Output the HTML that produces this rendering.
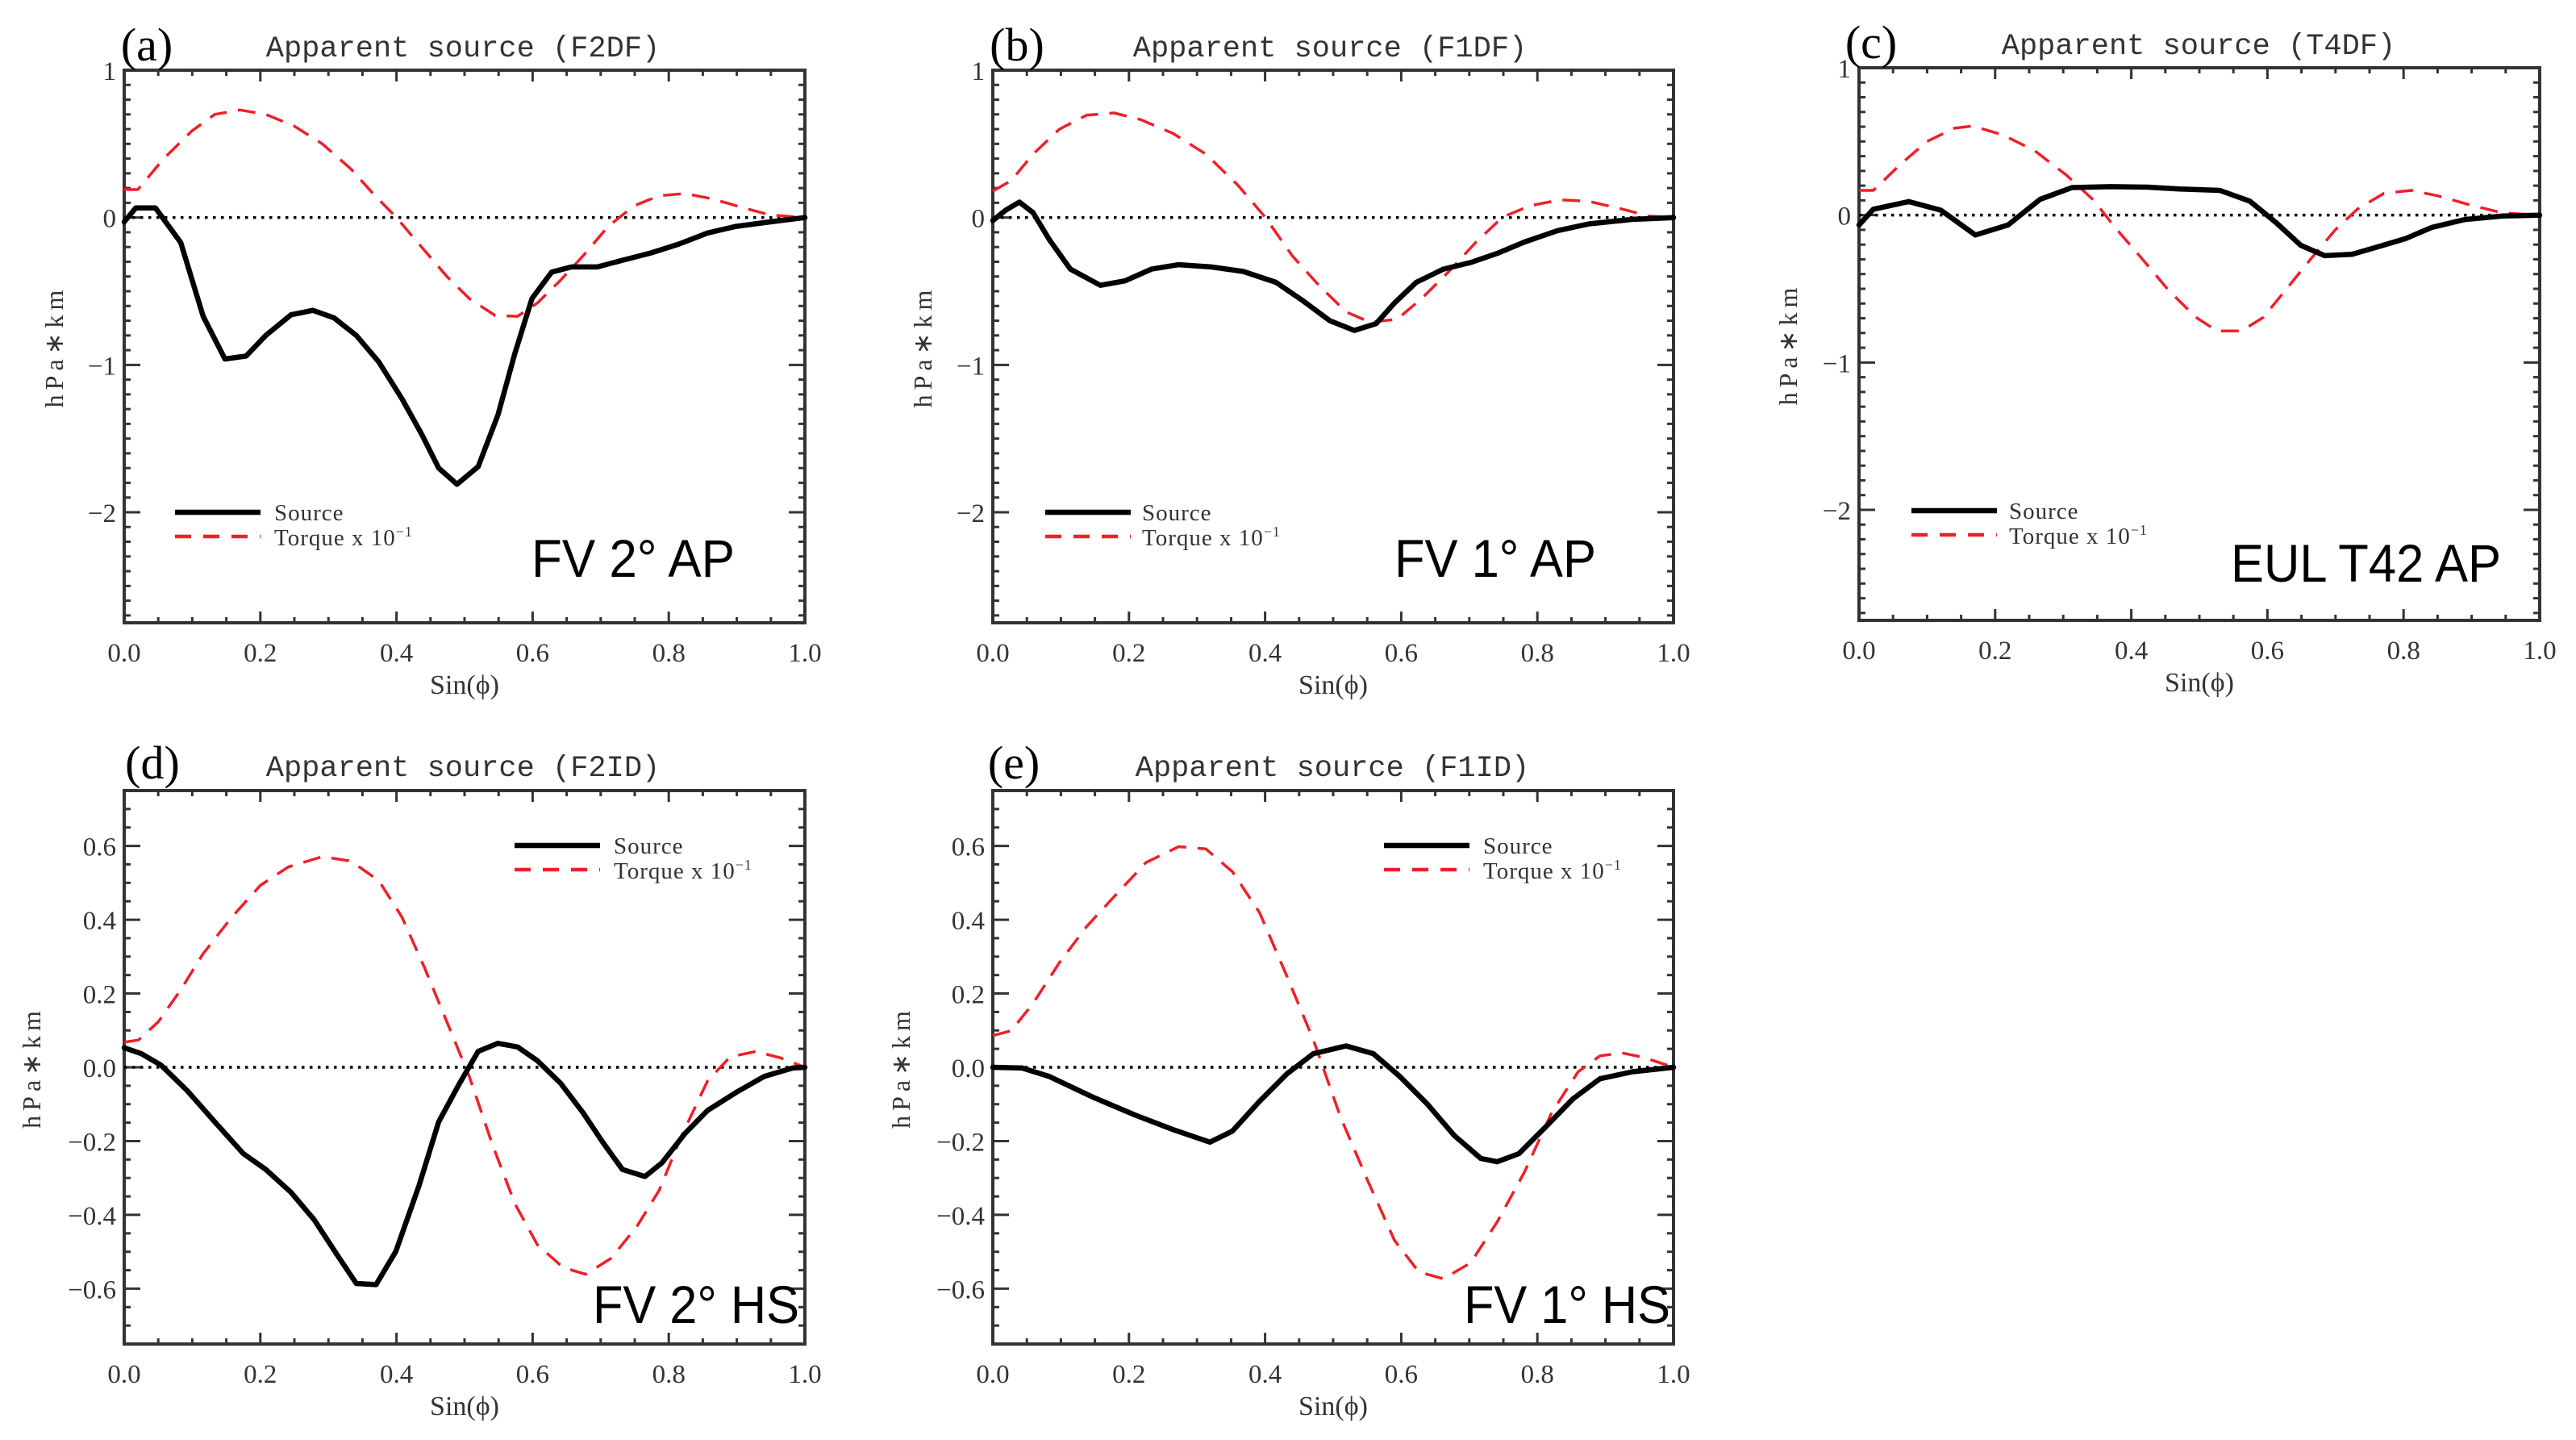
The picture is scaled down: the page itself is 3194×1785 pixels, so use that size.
<!DOCTYPE html>
<html><head><meta charset="utf-8"><style>
html,body{margin:0;padding:0;background:#fff}
svg{display:block}
.t{font-family:"Liberation Mono",monospace;fill:#333}
.s{font-family:"Liberation Serif",serif;fill:#333}
.b{font-family:"Liberation Sans",sans-serif;fill:#000}
</style></head><body>
<svg id="fig" width="3194" height="1785" viewBox="0 0 3194 1785" xmlns="http://www.w3.org/2000/svg"></svg>
<script>
// ---- data ----
const aSrcX=[0,0.017,0.046,0.083,0.116,0.148,0.179,0.208,0.245,0.277,0.308,0.341,0.374,0.408,0.437,0.462,0.489,0.52,0.549,0.574,0.599,0.628,0.657,0.695,0.732,0.774,0.815,0.857,0.899,0.948,1];
const aSrcY=[-0.03,0.065,0.065,-0.17,-0.67,-0.96,-0.94,-0.80,-0.66,-0.63,-0.68,-0.80,-0.98,-1.23,-1.47,-1.70,-1.81,-1.69,-1.34,-0.92,-0.55,-0.37,-0.335,-0.335,-0.29,-0.24,-0.18,-0.105,-0.06,-0.03,0];
const aTrqX=[0,0.02,0.058,0.1,0.133,0.17,0.208,0.25,0.291,0.333,0.366,0.4,0.433,0.474,0.507,0.545,0.578,0.607,0.64,0.674,0.711,0.749,0.786,0.824,0.865,0.907,0.948,1];
const aTrqY=[0.19,0.19,0.40,0.59,0.70,0.73,0.70,0.62,0.50,0.33,0.16,0.0,-0.18,-0.40,-0.55,-0.665,-0.67,-0.58,-0.43,-0.26,-0.06,0.08,0.148,0.163,0.126,0.07,0.018,0];
const bSrcX=[0,0.019,0.039,0.059,0.083,0.114,0.158,0.194,0.233,0.273,0.321,0.368,0.416,0.456,0.495,0.531,0.563,0.59,0.622,0.662,0.702,0.741,0.781,0.829,0.876,0.94,1];
const bSrcY=[-0.02,0.05,0.105,0.034,-0.15,-0.35,-0.46,-0.43,-0.35,-0.32,-0.335,-0.366,-0.44,-0.566,-0.70,-0.766,-0.72,-0.58,-0.44,-0.35,-0.305,-0.243,-0.166,-0.09,-0.043,-0.012,0];
const bTrqX=[0,0.027,0.059,0.098,0.138,0.178,0.217,0.265,0.313,0.36,0.4,0.44,0.479,0.519,0.554,0.594,0.63,0.67,0.71,0.749,0.789,0.833,0.876,0.924,0.964,1];
const bTrqY=[0.18,0.25,0.43,0.60,0.695,0.71,0.665,0.57,0.43,0.22,0.003,-0.26,-0.46,-0.64,-0.71,-0.69,-0.55,-0.366,-0.166,0.003,0.08,0.12,0.11,0.058,0.01,0];
const cSrcX=[0,0.021,0.073,0.12,0.171,0.219,0.266,0.313,0.369,0.424,0.471,0.53,0.574,0.613,0.649,0.684,0.724,0.763,0.803,0.842,0.89,0.945,1];
const cSrcY=[-0.067,0.04,0.092,0.034,-0.135,-0.067,0.107,0.187,0.193,0.19,0.177,0.168,0.095,-0.052,-0.205,-0.275,-0.266,-0.214,-0.159,-0.083,-0.03,-0.006,0];
const cTrqX=[0,0.021,0.061,0.1,0.14,0.167,0.211,0.258,0.305,0.345,0.376,0.416,0.455,0.495,0.526,0.562,0.594,0.629,0.661,0.7,0.732,0.771,0.811,0.85,0.897,0.945,1];
const cTrqY=[0.168,0.168,0.345,0.50,0.59,0.605,0.545,0.437,0.27,0.10,-0.083,-0.297,-0.511,-0.694,-0.786,-0.786,-0.694,-0.495,-0.312,-0.098,0.04,0.147,0.168,0.131,0.07,0.015,0];
const dSrcX=[0,0.025,0.054,0.092,0.133,0.175,0.208,0.245,0.279,0.312,0.341,0.37,0.399,0.433,0.462,0.491,0.52,0.549,0.578,0.607,0.641,0.674,0.703,0.732,0.765,0.79,0.824,0.857,0.899,0.94,0.982,1];
const dSrcY=[0.053,0.037,0.006,-0.062,-0.148,-0.234,-0.277,-0.339,-0.413,-0.506,-0.586,-0.589,-0.499,-0.321,-0.148,-0.049,0.043,0.065,0.055,0.018,-0.043,-0.123,-0.203,-0.277,-0.296,-0.259,-0.179,-0.117,-0.068,-0.025,-0.002,0];
const dTrqX=[0,0.021,0.05,0.083,0.116,0.158,0.2,0.241,0.291,0.333,0.374,0.408,0.441,0.474,0.507,0.541,0.574,0.607,0.645,0.678,0.715,0.753,0.786,0.819,0.857,0.89,0.928,0.965,1];
const dTrqY=[0.068,0.074,0.123,0.21,0.308,0.407,0.493,0.543,0.571,0.559,0.506,0.407,0.271,0.123,-0.025,-0.21,-0.37,-0.481,-0.543,-0.561,-0.518,-0.432,-0.333,-0.185,-0.037,0.028,0.043,0.025,0];
const eSrcX=[0,0.043,0.083,0.146,0.21,0.265,0.319,0.352,0.392,0.432,0.471,0.519,0.559,0.598,0.638,0.678,0.717,0.741,0.773,0.813,0.852,0.892,0.94,1];
const eSrcY=[0,-0.002,-0.025,-0.08,-0.13,-0.169,-0.203,-0.173,-0.092,-0.018,0.037,0.058,0.037,-0.025,-0.099,-0.185,-0.247,-0.256,-0.234,-0.16,-0.086,-0.031,-0.012,0];
const eTrqX=[0,0.027,0.059,0.098,0.138,0.178,0.225,0.273,0.313,0.352,0.392,0.432,0.471,0.511,0.551,0.59,0.626,0.662,0.702,0.741,0.781,0.821,0.86,0.892,0.924,0.956,1];
const eTrqY=[0.086,0.099,0.173,0.284,0.382,0.462,0.555,0.598,0.592,0.53,0.419,0.247,0.074,-0.136,-0.308,-0.469,-0.555,-0.573,-0.53,-0.419,-0.284,-0.123,-0.012,0.031,0.039,0.027,0];
const xTickLabels=["0.0","0.2","0.4","0.6","0.8","1.0"];
const yTicksAP=[1,0,-1,-2];
const yTickLabelsAP=["1","0","\u22121","\u22122"];
const yTicksHS=[0.6,0.4,0.2,0,-0.2,-0.4,-0.6];
const yTickLabelsHS=["0.6","0.4","0.2","0.0","\u22120.2","\u22120.4","\u22120.6"];

const NS="http://www.w3.org/2000/svg";
const svg=document.getElementById('fig');
function mk(tag,attrs,parent,text){const e=document.createElementNS(NS,tag);for(const k in attrs)e.setAttribute(k,attrs[k]);if(text!==undefined)e.textContent=text;(parent||svg).appendChild(e);return e;}

const panels=[
 {id:'a',L:154,R:998,T:87,B:772,ymin:-2.75,ymax:1.0,hs:false,sx:aSrcX,sy:aSrcY,tx:aTrqX,ty:aTrqY,title:'Apparent source (F2DF)',tcx:574,big:'FV 2° AP',bigX:659,bigW:252,bigY:715,lgX:217,lgT:340,lgY:635,ylx:67,plx:182,ply:75,tly:70},
 {id:'b',L:1231,R:2075,T:87,B:772,ymin:-2.75,ymax:1.0,hs:false,sx:bSrcX,sy:bSrcY,tx:bTrqX,ty:bTrqY,title:'Apparent source (F1DF)',tcx:1649,big:'FV 1° AP',bigX:1729,bigW:250,bigY:715,lgX:1296,lgT:1416,lgY:635,ylx:1144,plx:1261,ply:75,tly:70},
 {id:'c',L:2305,R:3149,T:84,B:769,ymin:-2.75,ymax:1.0,hs:false,sx:cSrcX,sy:cSrcY,tx:cTrqX,ty:cTrqY,title:'Apparent source (T4DF)',tcx:2726,big:'EUL T42 AP',bigX:2766,bigW:335,bigY:721,lgX:2370,lgT:2491,lgY:633,ylx:2217,plx:2320,ply:72,tly:67},
 {id:'d',L:154,R:998,T:980,B:1666,ymin:-0.75,ymax:0.75,hs:true,sx:dSrcX,sy:dSrcY,tx:dTrqX,ty:dTrqY,title:'Apparent source (F2ID)',tcx:574,big:'FV 2° HS',bigX:735,bigW:256,bigY:1640,lgX:638,lgT:761,lgY:1048,ylx:39,plx:189,ply:965,tly:962},
 {id:'e',L:1231,R:2075,T:980,B:1666,ymin:-0.75,ymax:0.75,hs:true,sx:eSrcX,sy:eSrcY,tx:eTrqX,ty:eTrqY,title:'Apparent source (F1ID)',tcx:1652,big:'FV 1° HS',bigX:1815,bigW:256,bigY:1640,lgX:1716,lgT:1839,lgY:1048,ylx:1117,plx:1257,ply:965,tly:962}
];

panels.forEach(p=>{
 const g=mk('g',{});
 
 
 const X=v=>p.L+(p.R-p.L)*v;
 const Y=v=>p.B-(p.B-p.T)*(v-p.ymin)/(p.ymax-p.ymin);
 const tg=mk('g',{stroke:'#333','stroke-width':3},g);
 
 
 for(let i=0;i<=20;i++){const v=i/20;const len=(i%4===0)?14:7;
  mk('line',{x1:X(v),x2:X(v),y1:p.B,y2:p.B-len},tg);mk('line',{x1:X(v),x2:X(v),y1:p.T,y2:p.T+len},tg);}
 const minor=p.hs?0.05:0.1;
 for(let v=Math.ceil(p.ymin/minor-1e-6)*minor;v<=p.ymax+1e-6;v+=minor){
  const major=p.hs?Math.abs(Math.round(v*100)%20)===0:Math.abs(v-Math.round(v))<1e-6;
  const len=major?20:8;
  mk('line',{x1:p.L,x2:p.L+len,y1:Y(v),y2:Y(v)},tg);mk('line',{x1:p.R,x2:p.R-len,y1:Y(v),y2:Y(v)},tg);}
 const fr=mk('rect',{x:p.L,y:p.T,width:p.R-p.L,height:p.B-p.T,fill:'none',stroke:'#333','stroke-width':4},g);
 
 
 const z=mk('line',{x1:p.L,x2:p.R,y1:Y(0),y2:Y(0),stroke:'#000','stroke-width':3.5,'stroke-dasharray':'3.5 6.5'},g);
 
 
 xTickLabels.forEach((lab,i)=>{const t=mk('text',{x:X(i*0.2),y:p.B+48,'text-anchor':'middle','font-size':33,class:'s'},g,lab);
  
  });
 const yt=p.hs?yTicksHS:yTicksAP, yl=p.hs?yTickLabelsHS:yTickLabelsAP;
 yt.forEach((v,i)=>{const t=mk('text',{x:p.L-10,y:Y(v)+12,'text-anchor':'end','font-size':33,class:'s'},g,yl[i]);
  
  });
 const xt=mk('text',{x:(p.L+p.R)/2,y:p.B+88,'text-anchor':'middle','font-size':34,class:'s'},g,'Sin(\u03d5)');
 
 
 const yy=(p.T+p.B)/2;
 const ya=mk('text',{x:p.ylx,y:yy,'text-anchor':'middle','font-size':32,class:'s','letter-spacing':6,transform:`rotate(-90 ${p.ylx} ${yy})`,dy:11},g,'hPa\u2217km');
 
 
 const ti=mk('text',{x:p.tcx,y:p.tly,'text-anchor':'middle','font-size':37,class:'t'},g,p.title);
 
 
 const pl=mk('text',{x:p.plx,y:p.ply,'text-anchor':'middle','font-size':58,class:'s',style:'fill:#000'},g,'('+p.id+')');
 
 
 const bg=mk('text',{x:p.bigX,y:p.bigY,'font-size':66,class:'b',textLength:p.bigW,lengthAdjust:'spacingAndGlyphs'},g,p.big);
 
 
 const pts=(xs,ys)=>xs.map((x,i)=>X(x).toFixed(1)+','+Y(ys[i]).toFixed(1)).join(' ');
 const tq=mk('polyline',{points:pts(p.tx,p.ty),fill:'none',stroke:'#ee2028','stroke-width':3.5,'stroke-dasharray':'22 14','stroke-linejoin':'round'},g);
 
 
 const sr=mk('polyline',{points:pts(p.sx,p.sy),fill:'none',stroke:'#000','stroke-width':6.5,'stroke-linejoin':'round','stroke-linecap':'round'},g);
 
 
 const lg=mk('g',{},g);
 
 
 mk('line',{x1:p.lgX,x2:p.lgX+106,y1:p.lgY,y2:p.lgY,stroke:'#000','stroke-width':6.5},lg);
 mk('line',{x1:p.lgX,x2:p.lgX+106,y1:p.lgY+30,y2:p.lgY+30,stroke:'#ee2028','stroke-width':4.5,'stroke-dasharray':'20 15'},lg);
 mk('text',{x:p.lgT,y:p.lgY+10,'font-size':29,class:'s','letter-spacing':1},lg,'Source');
 const t2=mk('text',{x:p.lgT,y:p.lgY+41,'font-size':29,class:'s','letter-spacing':1},lg,'Torque x 10');
 mk('tspan',{dy:-11,'font-size':18},t2,'\u22121');
});
</script>
</body></html>
